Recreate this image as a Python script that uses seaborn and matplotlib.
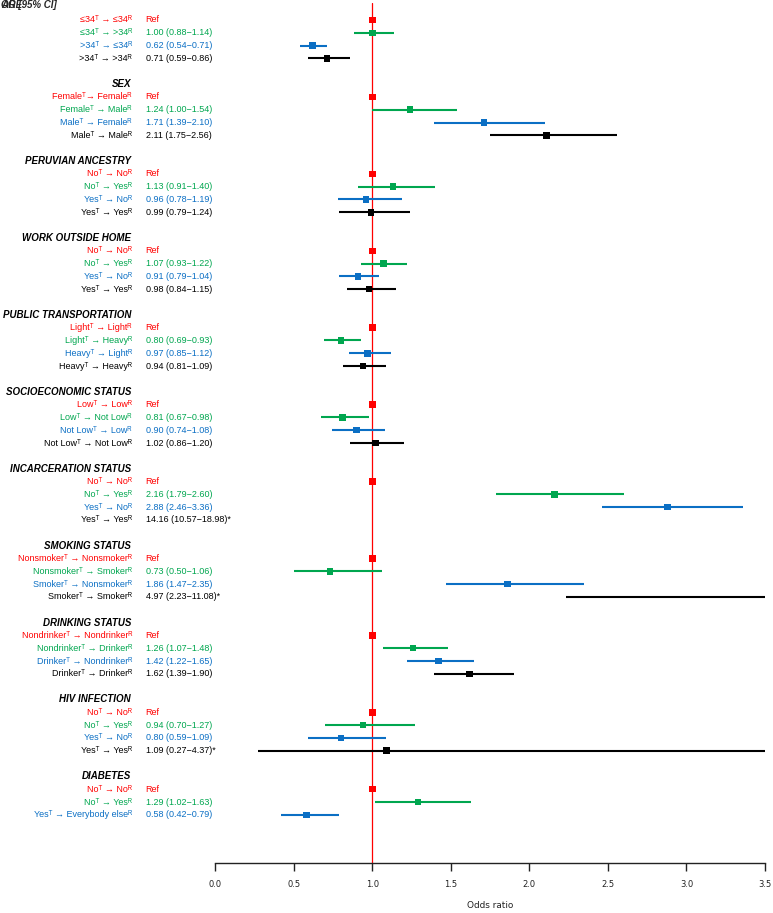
import matplotlib
matplotlib.use("Agg")
import matplotlib.pyplot as plt
import matplotlib.transforms as mtransforms
import numpy as np
import pandas as pd
import seaborn as sns

sns.set_theme(style="white")
plt.rcParams["font.family"] = ["Liberation Sans", "DejaVu Sans"]

# ---------------------------------------------------------------------------
# Data
# ---------------------------------------------------------------------------

SECTIONS = [
    "AGE", "SEX", "PERUVIAN ANCESTRY", "WORK OUTSIDE HOME",
    "PUBLIC TRANSPORTATION", "SOCIOECONOMIC STATUS", "INCARCERATION STATUS",
    "SMOKING STATUS", "DRINKING STATUS", "HIV INFECTION", "DIABETES",
]

LABELS = [
    ["≤34ᵀ → ≤34ᴿ", "≤34ᵀ → >34ᴿ", ">34ᵀ → ≤34ᴿ", ">34ᵀ → >34ᴿ"],
    ["Femaleᵀ→ Femaleᴿ", "Femaleᵀ → Maleᴿ", "Maleᵀ → Femaleᴿ", "Maleᵀ → Maleᴿ"],
    ["Noᵀ → Noᴿ", "Noᵀ → Yesᴿ", "Yesᵀ → Noᴿ", "Yesᵀ → Yesᴿ"],
    ["Noᵀ → Noᴿ", "Noᵀ → Yesᴿ", "Yesᵀ → Noᴿ", "Yesᵀ → Yesᴿ"],
    ["Lightᵀ → Lightᴿ", "Lightᵀ → Heavyᴿ", "Heavyᵀ → Lightᴿ", "Heavyᵀ → Heavyᴿ"],
    ["Lowᵀ → Lowᴿ", "Lowᵀ → Not Lowᴿ", "Not Lowᵀ → Lowᴿ", "Not Lowᵀ → Not Lowᴿ"],
    ["Noᵀ → Noᴿ", "Noᵀ → Yesᴿ", "Yesᵀ → Noᴿ", "Yesᵀ → Yesᴿ"],
    ["Nonsmokerᵀ → Nonsmokerᴿ", "Nonsmokerᵀ → Smokerᴿ",
     "Smokerᵀ → Nonsmokerᴿ", "Smokerᵀ → Smokerᴿ"],
    ["Nondrinkerᵀ → Nondrinkerᴿ", "Nondrinkerᵀ → Drinkerᴿ",
     "Drinkerᵀ → Nondrinkerᴿ", "Drinkerᵀ → Drinkerᴿ"],
    ["Noᵀ → Noᴿ", "Noᵀ → Yesᴿ", "Yesᵀ → Noᴿ", "Yesᵀ → Yesᴿ"],
    ["Noᵀ → Noᴿ", "Noᵀ → Yesᴿ", "Yesᵀ → Everybody elseᴿ"],
]

ODDS = [
    [1.00, 1.00, 0.62, 0.71],
    [1.00, 1.24, 1.71, 2.11],
    [1.00, 1.13, 0.96, 0.99],
    [1.00, 1.07, 0.91, 0.98],
    [1.00, 0.80, 0.97, 0.94],
    [1.00, 0.81, 0.90, 1.02],
    [1.00, 2.16, 2.88, 14.16],
    [1.00, 0.73, 1.86, 4.97],
    [1.00, 1.26, 1.42, 1.62],
    [1.00, 0.94, 0.80, 1.09],
    [1.00, 1.29, 0.58],
]

LOWER = [
    [np.nan, 0.88, 0.54, 0.59],
    [np.nan, 1.00, 1.39, 1.75],
    [np.nan, 0.91, 0.78, 0.79],
    [np.nan, 0.93, 0.79, 0.84],
    [np.nan, 0.69, 0.85, 0.81],
    [np.nan, 0.67, 0.74, 0.86],
    [np.nan, 1.79, 2.46, 10.57],
    [np.nan, 0.50, 1.47, 2.23],
    [np.nan, 1.07, 1.22, 1.39],
    [np.nan, 0.70, 0.59, 0.27],
    [np.nan, 1.02, 0.42],
]

UPPER = [
    [np.nan, 1.14, 0.71, 0.86],
    [np.nan, 1.54, 2.10, 2.56],
    [np.nan, 1.40, 1.19, 1.24],
    [np.nan, 1.22, 1.04, 1.15],
    [np.nan, 0.93, 1.12, 1.09],
    [np.nan, 0.98, 1.08, 1.20],
    [np.nan, 2.60, 3.36, 18.98],
    [np.nan, 1.06, 2.35, 11.08],
    [np.nan, 1.48, 1.65, 1.90],
    [np.nan, 1.27, 1.09, 4.37],
    [np.nan, 1.63, 0.79],
]

STARRED = [(6, 3), (7, 3), (9, 3)]

COLORS = ["#ff0000", "#00a64f", "#0b6fc4", "#000000"]
X_TICKS = [0.0, 0.5, 1.0, 1.5, 2.0, 2.5, 3.0, 3.5]

# ---------------------------------------------------------------------------
# Build long table (one line per comparison)
# ---------------------------------------------------------------------------

records = []
for i, sec in enumerate(SECTIONS):
    for j, lab in enumerate(LABELS[i]):
        o, lo, hi = ODDS[i][j], LOWER[i][j], UPPER[i][j]
        if j == 0:
            txt = "Ref"
        else:
            txt = f"{o:.2f} ({lo:.2f}\u2212{hi:.2f})"
            if (i, j) in STARRED:
                txt += "*"
        records.append({
            "row": 6 * i + 1 + j, "kind": j, "odds": o, "lo": lo, "hi": hi,
            "label": lab, "text": txt,
        })
df = pd.DataFrame(records)

# ---------------------------------------------------------------------------
# Figure
# ---------------------------------------------------------------------------

W, H = 773, 913
fig = plt.figure(figsize=(W / 100, H / 100), dpi=100)
ax_left, ax_right = 215.3, 765.0
ax_top, ax_bot = 3.3, 862.7
ax = fig.add_axes([ax_left / W, 1 - ax_bot / H,
                   (ax_right - ax_left) / W, (ax_bot - ax_top) / H])

# row k sits at pixel y = 7.18 + 12.82 * k
row_px = 12.82
y0 = 7.18
ax.set_xlim(0, 3.5)
ax.set_ylim((ax_bot - y0) / row_px, (ax_top - y0) / row_px)

ax.axvline(1.0, color="#ff0000", lw=0.9, zorder=1)

ci = df.dropna(subset=["lo"])
ax.hlines(ci["row"], ci["lo"], ci["hi"],
          colors=[COLORS[k] for k in ci["kind"]], lw=1.5, zorder=2)

sns.scatterplot(data=df, x="odds", y="row", hue="kind", palette=COLORS,
                marker="s", s=22, linewidth=0, legend=False, ax=ax, zorder=3)

# left hand text columns
trans = mtransforms.blended_transform_factory(fig.transFigure, ax.transData)
for i, sec in enumerate(SECTIONS[1:], start=1):
    ax.text(131 / W, 6 * i, sec, transform=trans, ha="right", va="center",
            fontsize=7, fontweight="bold", fontstyle="italic", color="black")
for _, r in df.iterrows():
    c = COLORS[int(r["kind"])]
    ax.text(132 / W, r["row"], r["label"], transform=trans, ha="right",
            va="center", fontsize=6.5, color=c)
    ax.text(145.5 / W, r["row"], r["text"], transform=trans, ha="left",
            va="center", fontsize=6.5, color=c)

# overlapping header at top-left (as in the original)
fig.text(1 / W, 1 - 5.5 / H, "OR [95% CI]", ha="left", va="center",
         fontsize=7, fontweight="bold", fontstyle="italic")
fig.text(1 / W, 1 - 5.5 / H, "AGE", ha="left", va="center",
         fontsize=7, fontweight="bold", fontstyle="italic")

# axis styling
for side in ["left", "right", "top"]:
    ax.spines[side].set_visible(False)
ax.spines["bottom"].set_color("#222222")
ax.spines["bottom"].set_linewidth(1.0)
ax.set_yticks([])
ax.set_xticks(X_TICKS)
ax.set_xticklabels([f"{t:.1f}" for t in X_TICKS],
                   fontsize=6.0, family="DejaVu Sans", color="#222222")
ax.tick_params(axis="x", bottom=True, direction="out", length=5.8,
               width=1.0, color="#222222", pad=6.5)
ax.set_xlabel("Odds ratio", fontsize=6.4, family="DejaVu Sans",
              color="#222222", labelpad=9)
ax.set_ylabel("")
ax.grid(False)

fig.savefig("out.png", dpi=100)
